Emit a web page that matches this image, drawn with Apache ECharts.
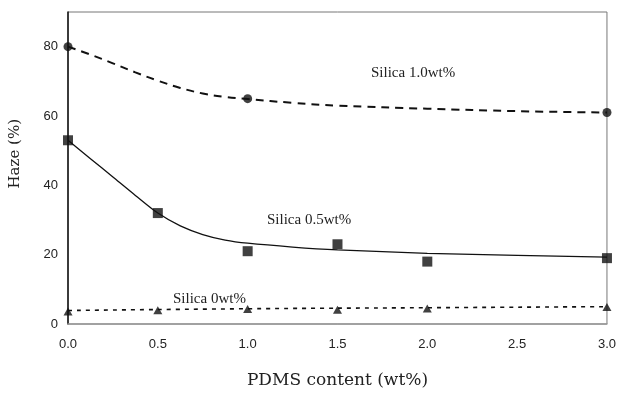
<!DOCTYPE html>
<html>
<head>
<meta charset="utf-8">
<script src="https://cdn.jsdelivr.net/npm/echarts@6/dist/echarts.min.js"></script>
<style>
  html, body { margin: 0; padding: 0; background: #fff; }
  #chart { width: 619px; height: 394px; }
</style>
</head>
<body>
<div id="chart"></div>
<script>
// Measured haze values (%) against PDMS content (wt%)
const pdmsSilica10 = [0, 1.0, 3.0];
const hazeSilica10 = [80, 65, 61];

const pdmsSilica05 = [0, 0.5, 1.0, 1.5, 2.0, 3.0];
const hazeSilica05 = [53, 32, 21, 23, 18, 19];

const pdmsSilica00 = [0, 0.5, 1.0, 1.5, 2.0, 3.0];
const hazeSilica00 = [3.6, 4.0, 4.3, 4.1, 4.5, 4.9];

// Trend curves drawn through each data set
const trendX10 = [0, 0.125, 0.25, 0.375, 0.5, 0.625, 0.75, 0.875, 1.0, 1.25, 1.5, 2.0, 2.5, 3.0];
const trendY10 = [80, 77.7, 75.2, 72.6, 70.2, 68.1, 66.5, 65.5, 64.9, 63.8, 63.0, 62.1, 61.4, 61];

const trendX05 = [0, 0.125, 0.25, 0.375, 0.5, 0.625, 0.75, 0.875, 1.0, 1.25, 1.5, 2.0, 2.5, 3.0];
const trendY05 = [53, 47.7, 42.4, 37.1, 32, 28.3, 25.8, 24.2, 23.3, 22.2, 21.4, 20.4, 19.8, 19.3];

const trendX00 = [0, 1.0, 2.0, 3.0];
const trendY00 = [3.9, 4.4, 4.7, 5.0];

const xTicks = [0, 0.5, 1.0, 1.5, 2.0, 2.5, 3.0];
const yTicks = [0, 20, 40, 60, 80];

const zip = (xs, ys) => xs.map((x, i) => [x, ys[i]]);

const serif = '"Liberation Serif", "DejaVu Serif", serif';
const titleSerif = '"DejaVu Serif", "Liberation Serif", serif';
const sans = '"Liberation Sans", Arial, sans-serif';

const chart = echarts.init(document.getElementById('chart'));

chart.setOption({
  animation: false,
  backgroundColor: '#ffffff',
  grid: { left: 68, right: 11, top: 12, bottom: 67, show: true, borderColor: '#777', borderWidth: 1 },
  xAxis: {
    type: 'value',
    min: 0, max: 3, interval: 0.5,
    axisLine: { show: true, lineStyle: { color: '#999', width: 1.5 } },
    axisTick: { show: false },
    splitLine: { show: false },
    axisLabel: {
      color: '#222', fontFamily: sans, fontSize: 13, margin: 14,
      formatter: v => xTicks.includes(v) ? v.toFixed(1) : ''
    },
    name: 'PDMS content (wt%)',
    nameLocation: 'middle',
    nameGap: 48,
    nameTextStyle: { color: '#222', fontFamily: titleSerif, fontSize: 17 }
  },
  yAxis: {
    type: 'value',
    min: 0, max: 90, interval: 20,
    axisLine: { show: true, lineStyle: { color: '#111', width: 1.5 } },
    axisTick: { show: false },
    splitLine: { show: false },
    axisLabel: {
      color: '#222', fontFamily: sans, fontSize: 13, margin: 10,
      formatter: v => yTicks.includes(v) ? String(v) : ''
    }
  },
  graphic: [
    {
      type: 'text', left: 8, top: 119, rotation: Math.PI / 2,
      style: { text: 'Haze (%)', fill: '#222', font: '15px ' + titleSerif }
    },
    {
      type: 'text', left: 371, top: 66,
      style: { text: 'Silica 1.0wt%', fill: '#222', font: '15px ' + serif }
    },
    {
      type: 'text', left: 267, top: 213,
      style: { text: 'Silica 0.5wt%', fill: '#222', font: '15px ' + serif }
    },
    {
      type: 'text', left: 173, top: 292,
      style: { text: 'Silica 0wt%', fill: '#222', font: '15px ' + serif }
    }
  ],
  series: [
    {
      type: 'line', data: zip(trendX10, trendY10), smooth: 0.4,
      showSymbol: false, silent: true,
      lineStyle: { color: '#111', width: 2, type: [8, 6] }, z: 2
    },
    {
      type: 'line', data: zip(trendX05, trendY05), smooth: 0.3,
      showSymbol: false, silent: true,
      lineStyle: { color: '#111', width: 1.3, type: 'solid' }, z: 2
    },
    {
      type: 'line', data: zip(trendX00, trendY00), smooth: 0.5,
      showSymbol: false, silent: true,
      lineStyle: { color: '#111', width: 1.6, type: [4, 5] }, z: 2
    },
    {
      type: 'scatter', data: zip(pdmsSilica10, hazeSilica10), symbol: 'circle', symbolSize: 9,
      itemStyle: { color: '#111' }, z: 3
    },
    {
      type: 'scatter', data: zip(pdmsSilica05, hazeSilica05), symbol: 'rect', symbolSize: 10,
      itemStyle: { color: '#111' }, z: 3
    },
    {
      type: 'scatter', data: zip(pdmsSilica00, hazeSilica00), symbol: 'triangle', symbolSize: [9, 8],
      itemStyle: { color: '#111' }, z: 3
    }
  ]
});
</script>
</body>
</html>
